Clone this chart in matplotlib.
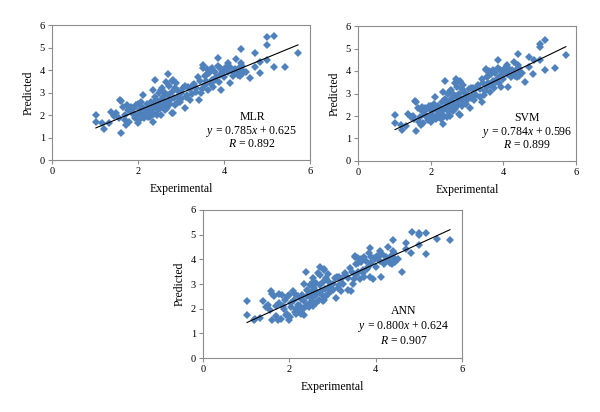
import matplotlib
matplotlib.use("Agg")
import matplotlib.pyplot as plt
import numpy as np

plt.rcParams['font.family'] = ['Liberation Serif', 'DejaVu Serif']
plt.rcParams['mathtext.fontset'] = 'custom'
plt.rcParams['mathtext.rm'] = 'Liberation Serif'
plt.rcParams['mathtext.it'] = 'Liberation Serif:italic'

experimental = [1.02, 1.02, 1.17, 1.20, 1.32, 1.38, 1.45, 1.50, 1.55, 1.57, 1.61, 1.61, 1.65, 1.69, 1.70,
                1.73, 1.75, 1.77, 1.80, 1.84, 1.85, 1.88, 1.90, 1.92, 1.95, 1.96, 2.00, 2.00, 2.02, 2.04,
                2.05, 2.08, 2.10, 2.12, 2.12, 2.15, 2.15, 2.19, 2.20, 2.23, 2.25, 2.27, 2.28, 2.30, 2.31,
                2.35, 2.35, 2.35, 2.38, 2.39, 2.40, 2.42, 2.43, 2.45, 2.47, 2.48, 2.50, 2.50, 2.52, 2.54,
                2.54, 2.55, 2.56, 2.58, 2.60, 2.62, 2.62, 2.65, 2.66, 2.68, 2.70, 2.70, 2.72, 2.74, 2.75,
                2.78, 2.78, 2.80, 2.81, 2.81, 2.83, 2.85, 2.86, 2.89, 2.90, 2.92, 2.93, 2.95, 2.97, 3.00,
                3.01, 3.05, 3.09, 3.10, 3.12, 3.15, 3.16, 3.20, 3.20, 3.25, 3.28, 3.30, 3.35, 3.36, 3.40,
                3.42, 3.45, 3.47, 3.50, 3.51, 3.52, 3.55, 3.55, 3.58, 3.59, 3.60, 3.63, 3.65, 3.67, 3.70,
                3.71, 3.72, 3.74, 3.78, 3.80, 3.82, 3.85, 3.86, 3.88, 3.90, 3.90, 3.94, 3.95, 3.98, 4.00,
                4.02, 4.05, 4.09, 4.10, 4.13, 4.15, 4.20, 4.21, 4.25, 4.29, 4.30, 4.33, 4.35, 4.38, 4.40,
                4.40, 4.42, 4.44, 4.45, 4.52, 4.60, 4.71, 4.71, 4.83, 4.84, 5.00, 5.00, 5.00, 5.16, 5.16,
                5.41, 5.72]

pred_mlr = [2.00, 1.67, 1.63, 1.38, 1.63, 2.15, 1.95, 2.07, 1.85, 2.67, 2.64, 1.19, 2.37, 1.78, 2.00,
            1.56, 2.45, 2.22, 1.70, 2.37, 2.10, 2.07, 2.30, 1.85, 1.95, 2.44, 1.63, 2.50, 1.80, 2.22,
            2.10, 2.59, 2.35, 2.89, 1.93, 2.05, 1.85, 2.22, 2.50, 1.93, 2.15, 2.37, 1.90, 2.60, 2.07,
            1.70, 3.11, 2.30, 2.05, 3.56, 2.80, 2.50, 2.67, 2.00, 2.22, 3.00, 2.44, 2.60, 2.30, 2.00,
            3.11, 3.20, 2.70, 2.81, 2.45, 2.22, 3.00, 2.60, 3.48, 2.30, 3.81, 2.90, 3.30, 2.67, 2.50,
            3.04, 2.10, 3.50, 3.56, 2.07, 2.75, 2.44, 3.20, 3.41, 2.55, 3.05, 2.81, 2.85, 2.59, 2.70,
            2.96, 3.20, 2.30, 3.30, 2.81, 2.90, 3.26, 2.67, 3.15, 2.95, 3.33, 3.40, 3.20, 3.04, 3.70,
            2.67, 3.50, 2.96, 3.15, 4.22, 4.10, 3.33, 3.75, 3.50, 3.78, 4.05, 3.11, 3.85, 4.00, 3.40,
            3.56, 4.10, 3.26, 3.90, 3.55, 3.70, 4.20, 4.52, 3.48, 4.07, 3.80, 3.11, 4.00, 3.93, 3.70,
            4.10, 4.07, 4.30, 3.90, 3.41, 4.15, 3.75, 3.93, 4.05, 4.47, 3.90, 3.78, 4.10, 3.75, 4.92,
            4.30, 4.20, 3.85, 3.95, 3.93, 3.63, 4.74, 4.15, 3.85, 4.37, 5.45, 5.11, 4.44, 5.51, 4.12,
            4.15, 4.77]

pred_svm = [2.05, 1.67, 1.60, 1.38, 1.55, 2.10, 1.95, 2.00, 1.85, 2.65, 2.62, 1.35, 2.37, 1.75, 1.95,
            1.60, 2.40, 2.20, 1.70, 2.35, 2.05, 2.00, 2.30, 1.80, 1.90, 2.45, 1.75, 2.45, 1.78, 2.20,
            2.05, 2.55, 2.30, 2.85, 1.90, 2.00, 1.85, 2.20, 2.45, 1.95, 2.10, 2.35, 1.85, 2.60, 2.00,
            1.65, 3.08, 2.25, 2.00, 3.55, 2.75, 2.45, 2.65, 1.95, 2.20, 3.00, 2.40, 2.55, 2.30, 2.00,
            3.10, 3.15, 2.70, 2.80, 2.40, 2.20, 3.00, 2.55, 3.45, 2.30, 3.65, 2.90, 3.30, 2.65, 2.50,
            3.00, 2.10, 3.50, 3.55, 2.05, 2.75, 2.45, 3.20, 3.40, 2.55, 3.05, 2.80, 2.85, 2.55, 2.70,
            2.95, 3.20, 2.37, 3.25, 2.80, 2.90, 3.25, 2.70, 3.15, 2.95, 3.30, 3.40, 3.20, 2.85, 3.65,
            2.60, 3.45, 2.95, 3.10, 4.10, 4.05, 3.30, 3.75, 3.45, 3.80, 4.00, 3.05, 3.85, 3.95, 3.35,
            3.55, 4.05, 3.25, 3.90, 3.50, 3.65, 4.15, 4.50, 3.45, 4.05, 3.80, 3.28, 4.00, 3.90, 3.65,
            4.10, 4.05, 4.25, 3.85, 3.28, 4.10, 3.75, 3.90, 4.05, 4.40, 3.85, 3.78, 4.05, 3.75, 4.75,
            4.25, 4.15, 3.80, 3.95, 3.90, 3.52, 4.62, 4.20, 3.88, 4.50, 5.20, 5.05, 4.50, 5.40, 4.05,
            4.15, 4.70]

pred_ann = [2.30, 1.75, 1.55, 1.60, 1.62, 2.30, 2.05, 2.15, 1.95, 2.70, 2.60, 1.55, 2.50, 1.70, 2.10,
            1.55, 2.60, 2.25, 1.60, 2.55, 2.10, 2.00, 2.35, 1.75, 1.80, 2.50, 1.55, 2.55, 1.65, 2.25,
            2.05, 2.70, 2.35, 2.60, 1.85, 2.00, 1.80, 2.15, 2.50, 1.85, 2.10, 2.40, 1.80, 2.55, 2.00,
            1.75, 3.00, 2.30, 2.10, 3.50, 2.75, 2.50, 2.70, 2.05, 2.25, 2.95, 2.45, 2.65, 2.30, 2.10,
            3.10, 3.25, 2.75, 2.85, 2.50, 2.25, 3.05, 2.65, 3.45, 2.35, 3.70, 2.95, 3.35, 2.70, 2.55,
            3.10, 2.30, 3.55, 3.60, 2.35, 2.80, 2.50, 3.25, 3.40, 2.60, 3.10, 2.85, 2.90, 2.70, 2.75,
            3.00, 3.25, 2.45, 3.30, 2.85, 2.95, 3.30, 2.70, 3.20, 3.00, 3.35, 3.45, 3.25, 2.75, 3.65,
            2.70, 3.50, 3.00, 3.20, 4.15, 4.10, 3.35, 3.80, 3.50, 3.85, 4.05, 3.20, 3.90, 4.00, 3.45,
            3.55, 4.10, 3.30, 3.95, 3.60, 3.70, 4.25, 4.45, 3.30, 4.10, 3.85, 3.20, 4.05, 4.00, 3.70,
            4.15, 4.10, 4.35, 3.95, 3.30, 4.20, 3.80, 3.95, 4.10, 4.50, 3.95, 3.85, 4.15, 3.80, 4.80,
            4.35, 4.25, 3.90, 4.00, 4.00, 3.48, 4.68, 4.40, 4.25, 5.12, 5.05, 4.98, 4.60, 5.08, 4.22,
            4.82, 4.77]

models = ["MLR", "SVM", "ANN"]
slopes = [0.785, 0.784, 0.800]
intercepts = [0.625, 0.596, 0.624]
r_values = [0.892, 0.899, 0.907]
predictions = [pred_mlr, pred_svm, pred_ann]

W, H = 600, 412
fig = plt.figure(figsize=(W / 100, H / 100), dpi=100)

# axes boxes in pixels: left, right, top, bottom
boxes = [(52, 310, 25, 160), (358, 576, 26, 161), (203, 462, 210, 358)]

marker_color = "#4F81BD"
spine_color = "#8C8C8C"

for box, model, slope, icpt, r, pred in zip(boxes, models, slopes, intercepts, r_values, predictions):
    l, rgt, t, b = box
    ax = fig.add_axes([l / W, 1 - b / H, (rgt - l) / W, (b - t) / H])
    ax.plot(experimental, pred, linestyle="none", marker="D", ms=3.9, mew=0,
            color=marker_color, zorder=2)
    xs = np.array([min(experimental), max(experimental)])
    ax.plot(xs, slope * xs + icpt, color="black", lw=0.8, zorder=3)
    ax.set_xlim(0, 6)
    ax.set_ylim(0, 6)
    ax.set_xticks([0, 2, 4, 6])
    ax.set_yticks([0, 1, 2, 3, 4, 5, 6])
    for s in ax.spines.values():
        s.set_color(spine_color)
        s.set_linewidth(0.8)
    ax.tick_params(direction="out", length=3, width=0.8, color=spine_color,
                   labelsize=7.5, pad=2)
    ax.set_xlabel("Experimental", fontsize=8.5, labelpad=5)
    ax.set_ylabel("Predicted", fontsize=8.5, labelpad=4)
    ax.text(4.65, 1.9, model, ha="center", va="center", fontsize=8.5)
    ax.text(4.65, 1.26, r"$y$ = %.3f$x$ + %.3f" % (slope, icpt), ha="center", va="center", fontsize=8.5)
    ax.text(4.65, 0.70, r"$R$ = %.3f" % r, ha="center", va="center", fontsize=8.5)

fig.savefig("out.png", dpi=100)
